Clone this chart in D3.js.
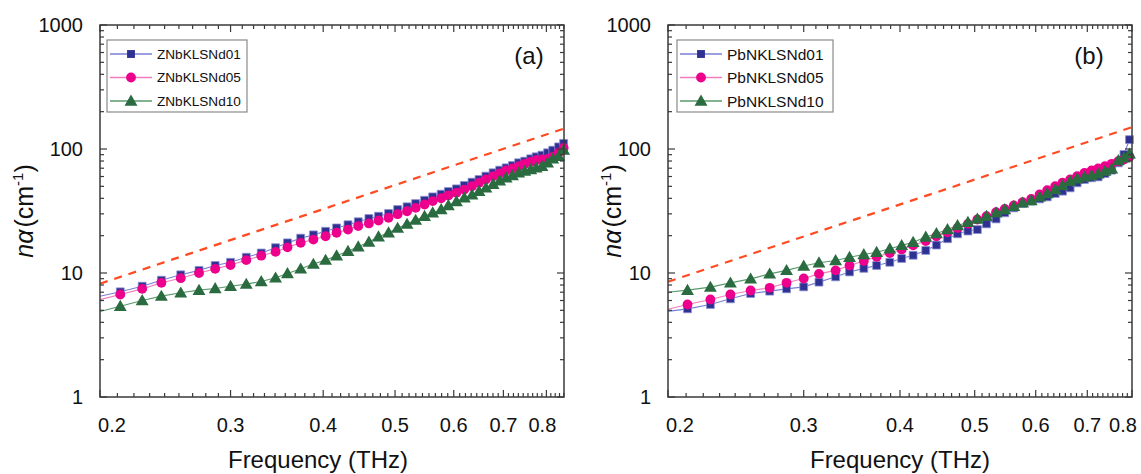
<!DOCTYPE html>
<html><head><meta charset="utf-8">
<script src="https://cdn.jsdelivr.net/npm/d3@7"></script>
<style>
body{margin:0;background:#fff}
svg{display:block}
text{font-family:"Liberation Sans",Arial,Helvetica,sans-serif;fill:#111}
</style>
</head><body>
<svg id="c" width="1141" height="474"></svg>
<script>
// ---------- DATA ----------
const yTickValues = [1, 10, 100, 1000];
const xTickValues = [0.2, 0.3, 0.4, 0.5, 0.6, 0.7, 0.8];
const xTickLabels = ["0.2", "0.3", "0.4", "0.5", "0.6", "0.7", "0.8"];

// Panel (a)
const namesA = ["ZNbKLSNd01", "ZNbKLSNd05", "ZNbKLSNd10"];
const freqA = [0.213,0.228,0.242,0.257,0.272,0.286,0.300,0.315,0.330,0.345,0.358,0.373,0.388,0.403,0.417,0.432,0.446,0.461,0.475,0.490,0.504,0.519,0.533,0.548,0.562,0.577,0.590,0.605,0.620,0.635,0.649,0.663,0.678,0.692,0.706,0.720,0.734,0.748,0.762,0.775,0.789,0.803,0.816,0.831,0.844];
const a01 = [7.05,7.83,8.75,9.67,10.5,11.5,12.2,13.4,14.5,16.0,17.5,19.1,20.3,21.7,23.1,24.5,25.9,27.5,28.7,30.2,32.5,34.2,36.3,38.6,41.1,43.2,45.4,47.7,50.8,54.0,56.8,60.4,64.3,67.5,70.5,73.6,77.4,79.8,83.4,86.5,89.2,93.2,97.8,104,111];
const a05 = [6.71,7.45,8.33,9.08,10.0,10.8,11.6,12.7,13.8,14.8,16.1,17.5,18.6,19.8,21.1,22.4,23.9,25.1,26.5,27.9,29.8,31.5,33.5,35.7,38.0,40.1,42.2,44.3,47.1,50.1,53.4,56.8,60.4,63.4,67.1,69.6,72.7,75.9,78.8,81.3,82.3,83.3,86.5,93.1,102];
const a10 = [5.40,6.00,6.51,6.92,7.27,7.50,7.83,8.13,8.54,9.14,9.91,10.8,11.8,12.7,13.8,15.0,16.3,17.8,19.6,21.1,23.0,24.8,26.7,28.7,30.6,32.5,35.0,37.7,40.4,42.7,45.7,48.6,52.0,55.4,58.6,61.1,64.2,66.3,68.3,70.5,72.7,77.3,83.3,87.5,97.9];
const edgeA = [6.5, 6.1, 4.9];          // line values at the left axis (no marker)
const dashFreqA = [0.2, 0.845];
const dashValA = [8.2, 146];

// Panel (b)
const namesB = ["PbNKLSNd01", "PbNKLSNd05", "PbNKLSNd10"];
const freqB = [0.212,0.227,0.241,0.256,0.271,0.285,0.300,0.314,0.330,0.344,0.359,0.373,0.388,0.402,0.416,0.432,0.446,0.461,0.475,0.490,0.504,0.518,0.533,0.547,0.562,0.577,0.592,0.607,0.621,0.636,0.650,0.665,0.679,0.694,0.709,0.723,0.738,0.753,0.768,0.781,0.794];
const b01 = [5.14,5.57,6.19,6.83,7.14,7.45,7.73,8.44,9.31,10.2,10.9,11.5,12.2,13.1,13.9,15.2,16.8,18.9,20.7,21.8,22.4,24.9,27.3,30.6,33.5,36.4,38.0,39.6,41.1,43.8,45.7,48.6,53.4,56.8,58.6,59.6,63.4,67.5,77.3,90.3,119];
const b05 = [5.57,6.11,6.71,7.22,7.59,8.33,9.03,9.84,10.5,11.5,12.5,13.5,14.5,15.5,16.7,18.1,19.8,21.3,23.1,24.9,27.0,28.7,30.9,32.9,35.0,37.3,39.6,43.0,46.6,50.1,53.4,56.8,60.4,64.2,67.1,69.6,72.7,75.9,79.8,82.3,86.5];
const b10 = [7.27,7.69,8.33,8.97,9.84,10.5,11.4,12.1,12.6,13.4,14.1,14.7,15.7,16.7,17.7,19.5,20.8,22.4,24.2,25.7,27.3,28.7,30.6,32.5,34.6,36.8,38.4,41.1,43.8,47.1,50.8,55.0,57.5,59.6,61.1,63.1,66.3,69.2,80.8,84.9,91.4];
const edgeB = [4.9, 5.1, 7.0];
const dashFreqB = [0.2, 0.8];
const dashValB = [8.5, 150];

// ---------- STYLE ----------
const markerColors = ["#2e3192", "#ec008c", "#2a6b40"];
const lineColors = ["#7a7fd6", "#f27bbd", "#5a9a6c"];
const symbols = [d3.symbolSquare, d3.symbolCircle, d3.symbolTriangle];
const symSizes = [62, 76, 72];

const svg = d3.select("#c");

function panel(cfg) {
  const g = svg.append("g");
  const x = d3.scaleLog().domain(cfg.xDomain).range([cfg.x0, cfg.x1]);
  const y = d3.scaleLog().domain([1, 1000]).range([397, 25]);
  const [X0, X1] = [cfg.x0, cfg.x1];
  const [Y0, Y1] = [397, 25];

  // dashed reference line
  g.append("line")
    .attr("x1", x(cfg.dashF[0])).attr("y1", y(cfg.dashV[0]))
    .attr("x2", x(cfg.dashF[1])).attr("y2", y(cfg.dashV[1]))
    .attr("stroke", "#ff4a22").attr("stroke-width", 2.2)
    .attr("stroke-dasharray", "8,7");

  // series lines and markers
  const series = cfg.series;
  const line = d3.line().x(d => x(d[0])).y(d => y(d[1]));
  series.forEach((vals, i) => {
    const pts = [[cfg.xDomain[0], cfg.edge[i]]].concat(cfg.freq.map((f, k) => [f, vals[k]]));
    g.append("path").attr("d", line(pts)).attr("fill", "none")
      .attr("stroke", lineColors[i]).attr("stroke-width", 1.1);
  });
  series.forEach((vals, i) => {
    const sym = d3.symbol().type(symbols[i]).size(symSizes[i]);
    g.selectAll(null).data(cfg.freq.map((f, k) => [f, vals[k]])).join("path")
      .attr("d", sym)
      .attr("transform", d => `translate(${x(d[0])},${y(d[1]) + (i === 2 ? 1 : 0)})`)
      .attr("fill", markerColors[i])
      .attr("stroke", i === 0 ? "#8d90d2" : "none").attr("stroke-width", 0.8);
  });

  // frame
  g.append("rect").attr("x", X0).attr("y", Y1).attr("width", X1 - X0).attr("height", Y0 - Y1)
    .attr("fill", "none").attr("stroke", "#3a3a3a").attr("stroke-width", 1.5);

  // y ticks (both sides, inward)
  const yMinor = [];
  [1, 10, 100].forEach(d => { for (let k = 2; k <= 9; k++) yMinor.push(k * d); });
  const tk = g.append("g").attr("stroke", "#3a3a3a").attr("stroke-width", 1.2);
  yTickValues.forEach(v => {
    tk.append("line").attr("x1", X0).attr("x2", X0 + 7).attr("y1", y(v)).attr("y2", y(v));
    tk.append("line").attr("x1", X1).attr("x2", X1 - 7).attr("y1", y(v)).attr("y2", y(v));
  });
  yMinor.forEach(v => {
    tk.append("line").attr("x1", X0).attr("x2", X0 + 4).attr("y1", y(v)).attr("y2", y(v));
    tk.append("line").attr("x1", X1).attr("x2", X1 - 4).attr("y1", y(v)).attr("y2", y(v));
  });
  // x ticks
  const xMinor = [];
  for (let m = 0.2; m < cfg.xDomain[1] - 1e-9; m += 0.1) {
    for (let k = 1; k <= 8; k++) {
      const v = m + k * 0.1 / 9;
      if (v <= cfg.xDomain[1]) xMinor.push(v);
    }
  }
  xTickValues.forEach(v => {
    tk.append("line").attr("x1", x(v)).attr("x2", x(v)).attr("y1", Y0).attr("y2", Y0 - 7);
    tk.append("line").attr("x1", x(v)).attr("x2", x(v)).attr("y1", Y1).attr("y2", Y1 + 7);
  });
  xMinor.forEach(v => {
    tk.append("line").attr("x1", x(v)).attr("x2", x(v)).attr("y1", Y0).attr("y2", Y0 - 4);
    tk.append("line").attr("x1", x(v)).attr("x2", x(v)).attr("y1", Y1).attr("y2", Y1 + 4);
  });

  // y tick labels
  yTickValues.forEach(v => {
    g.append("text").attr("x", X0 - 17).attr("y", y(v)).attr("dy", "0.36em")
      .attr("text-anchor", "end").attr("font-size", 20).text(v);
  });
  // x tick labels
  xTickValues.forEach((v, i) => {
    let px = x(v);
    if (i === 0) px += 12;
    if (i === xTickValues.length - 1) px += cfg.lastShift;
    g.append("text").attr("x", px).attr("y", 432).attr("text-anchor", "middle")
      .attr("font-size", 20).text(xTickLabels[i]);
  });

  // axis titles
  g.append("text").attr("x", cfg.xTitleX).attr("y", 468).attr("text-anchor", "middle")
    .attr("font-size", 24).text("Frequency (THz)");
  const yt = g.append("text").attr("transform", `translate(${cfg.yTitleX},211) rotate(-90)`)
    .attr("text-anchor", "middle").attr("font-size", 25);
  yt.append("tspan").attr("font-style", "italic").text("n");
  yt.append("tspan").attr("font-style", "italic").text("α");
  yt.append("tspan").attr("dx", 2).text("(cm");
  yt.append("tspan").attr("dy", -10).attr("font-size", 15).text("-1");
  yt.append("tspan").attr("dy", 10).text(")");

  // panel label
  g.append("text").attr("x", cfg.labelX).attr("y", 64).attr("text-anchor", "middle")
    .attr("font-size", 24).text(cfg.label);

  // legend
  const L = cfg.legend;
  g.append("rect").attr("x", L.x).attr("y", 40).attr("width", L.w).attr("height", 72)
    .attr("fill", "#fff").attr("stroke", "#8a8a8a").attr("stroke-width", 1.2);
  cfg.names.forEach((nm, i) => {
    const yy = 54 + i * 23.5;
    g.append("line").attr("x1", L.x + 3).attr("x2", L.x + 45).attr("y1", yy).attr("y2", yy)
      .attr("stroke", lineColors[i]).attr("stroke-width", 1.3);
    g.append("path").attr("d", d3.symbol().type(symbols[i]).size(symSizes[i])())
      .attr("transform", `translate(${L.x + 24},${yy + (i === 2 ? 1 : 0)})`)
      .attr("fill", markerColors[i]);
    g.append("text").attr("x", L.x + 50).attr("y", yy).attr("dy", "0.36em")
      .attr("font-size", L.fs).text(nm);
  });
}

panel({
  xDomain: [0.2, 0.845], x0: 100, x1: 564,
  freq: freqA, series: [a01, a05, a10], edge: edgeA,
  dashF: dashFreqA, dashV: dashValA,
  names: namesA, label: "(a)", labelX: 529,
  xTitleX: 318, yTitleX: 33, lastShift: -4,
  legend: {x: 107, w: 140, fs: 13.6}
});
panel({
  xDomain: [0.2, 0.8], x0: 668, x1: 1132,
  freq: freqB, series: [b01, b05, b10], edge: edgeB,
  dashF: dashFreqB, dashV: dashValB,
  names: namesB, label: "(b)", labelX: 1089,
  xTitleX: 900, yTitleX: 621, lastShift: -9,
  legend: {x: 677, w: 156, fs: 15.5}
});
</script>
</body></html>
